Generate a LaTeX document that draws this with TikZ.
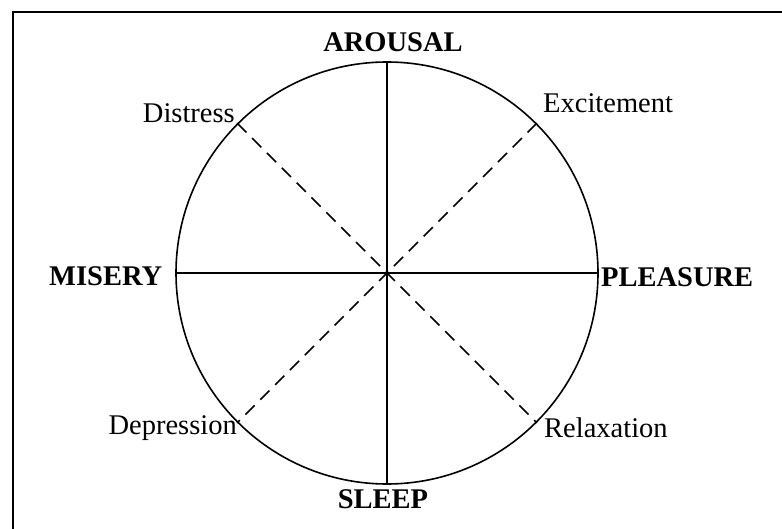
\documentclass[tikz,border=0pt]{standalone}
\usepackage{fontspec}
\setmainfont{Liberation Serif}
\begin{document}
\begin{tikzpicture}[x=1pt,y=-1pt,
  lbl/.style={inner sep=0pt,font=\fontsize{28.5}{34}\selectfont},
  blbl/.style={lbl,font=\fontsize{28.5}{34}\selectfont\bfseries},
  axis/.style={line width=1.6pt},
  diag/.style={line width=1.6pt,dash pattern=on 13pt off 8pt}]
\useasboundingbox (0,0) rectangle (782,529);
\coordinate (bl) at (13,529);
\coordinate (tl) at (13,12);
\coordinate (tr) at (782,12);
\draw[line width=2pt] (bl) -- (tl) -- (tr);
\node (circ) [circle,draw,line width=1.6pt,minimum size=422pt,inner sep=0pt] at (387,273) {};
\draw[axis] (circ.north) -- (circ.south);
\draw[axis] (circ.west) -- (circ.east);
\draw[diag] (circ.45) -- (circ.225);
\draw[diag] (circ.135) -- (circ.315);
\node (arousal) [blbl,anchor=base] at (393,52) {AROUSAL};
\node (sleep) [blbl,anchor=base] at (383,508) {SLEEP};
\node (misery) [blbl,anchor=base west] at (49,286) {MISERY};
\node (pleasure) [blbl,anchor=base west] at (601,287) {PLEASURE};
\node (distress) [lbl,anchor=base east] at (235,123) {Distress};
\node (excitement) [lbl,anchor=base west] at (543,113) {Excitement};
\node (depression) [lbl,anchor=base east] at (237,434) {Depression};
\node (relaxation) [lbl,anchor=base west] at (544,437) {Relaxation};
\end{tikzpicture}
\end{document}
